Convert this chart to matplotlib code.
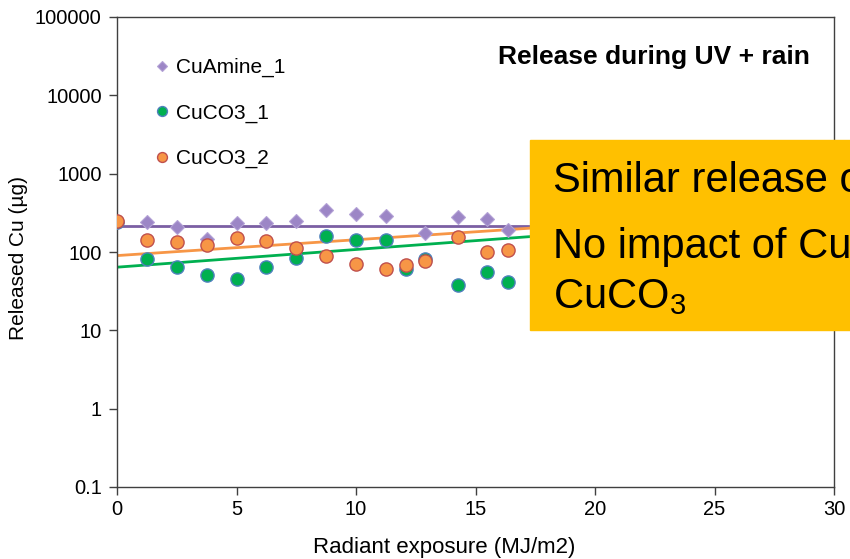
import numpy as np
import matplotlib
matplotlib.use("Agg")
import matplotlib.pyplot as plt
from matplotlib.patches import Rectangle

plt.rcParams['font.family'] = ['Liberation Sans', 'DejaVu Sans']
plt.rcParams['mathtext.fontset'] = 'custom'
plt.rcParams['mathtext.rm'] = 'Liberation Sans'
plt.rcParams['mathtext.it'] = 'Liberation Sans'

# radiant exposure (MJ/m2)
exposure = [0, 1.25, 2.5, 3.75, 5, 6.25, 7.5, 8.75, 10, 11.25, 12.1, 12.9, 14.25, 15.5, 16.35]
# released Cu (ug)
cu_amine_1 = [245, 239, 210, 145, 233, 233, 251, 343, 305, 291, np.nan, 173, 282, 262, 191]
cuco3_1 = [245, 81, 64, 51, 45, 64, 83, 162, 142, 142, 60, 81, 38, 55, 41]
cuco3_2 = [251, 142, 135, 123, 150, 139, 111, 90, 70, 61, 69, 77, 157, 101, 106]

# exponential trend lines y = a*exp(b*x)
trend_a = {'CuAmine_1': 217, 'CuCO3_1': 64, 'CuCO3_2': 90}
trend_b = {'CuAmine_1': 0.0, 'CuCO3_1': 0.052, 'CuCO3_2': 0.0466}

fig = plt.figure(figsize=(8.5, 5.59), dpi=100)
ax = fig.add_axes([117/850, 1-487/559, (834-117)/850, (487-17)/559])

xs = np.linspace(0, 30, 50)
for name, col in [('CuAmine_1', '#7b5fa3'), ('CuCO3_2', '#f79646'), ('CuCO3_1', '#00b050')]:
    ax.plot(xs, trend_a[name]*np.exp(trend_b[name]*xs), color=col, lw=2.0, zorder=2)

ax.plot(exposure, cu_amine_1, ls='none', marker='D', ms=7, mfc='#9c86c6', mec='#b3a2d6',
        mew=0.8, label='CuAmine_1', zorder=3)
ax.plot(exposure, cuco3_1, ls='none', marker='o', ms=9.5, mfc='#00b050', mec='#4f81bd',
        mew=1.0, label='CuCO3_1', zorder=3)
ax.plot(exposure, cuco3_2, ls='none', marker='o', ms=9.5, mfc='#f79646', mec='#c0504d',
        mew=1.0, label='CuCO3_2', zorder=4)

ax.set_yscale('log')
ax.set_ylim(0.1, 100000)
ax.set_xlim(0, 30)
ax.set_xticks(range(0, 31, 5))
ax.set_yticks([0.1, 1, 10, 100, 1000, 10000, 100000])
ax.set_yticklabels(['0.1', '1', '10', '100', '1000', '10000', '100000'])
ax.minorticks_off()
ax.tick_params(labelsize=14.5, length=6, width=1, color='#404040', direction='out')
ax.tick_params(axis='y', pad=5)
for s in ax.spines.values():
    s.set_color('#404040')
    s.set_linewidth(1)

ax.set_xlabel('Radiant exposure (MJ/m2)', fontsize=16)
ax.xaxis.set_label_coords(0.456, -0.106)
ax.set_ylabel('Released Cu (µg)', fontsize=15)
ax.yaxis.set_label_coords(-0.124, 0.487)

ax.text(0.967, 0.915, 'Release during UV + rain', transform=ax.transAxes,
        ha='right', va='center', fontsize=19, fontweight='bold')

leg = ax.legend(loc='upper left', bbox_to_anchor=(0.044, 0.93), frameon=False,
                fontsize=15, labelspacing=1.25, handlelength=0.5, handletextpad=0.4,
                markerscale=0.75, borderaxespad=0)

# yellow call-out box
fig.patches.append(Rectangle((530/850, 1-330/559), 330/850, 190/559,
                             transform=fig.transFigure, color='#ffc000', zorder=10))
fig.text(553/850, 1-192/559, 'Similar release of Cu', fontsize=30, va='baseline', zorder=11)
fig.text(553/850, 1-258/559, 'No impact of CuAmine or', fontsize=30, va='baseline', zorder=11)
fig.text(553/850, 1-308/559, 'CuCO$_3$', fontsize=30, va='baseline', zorder=11)

fig.savefig('out.png', dpi=100)
